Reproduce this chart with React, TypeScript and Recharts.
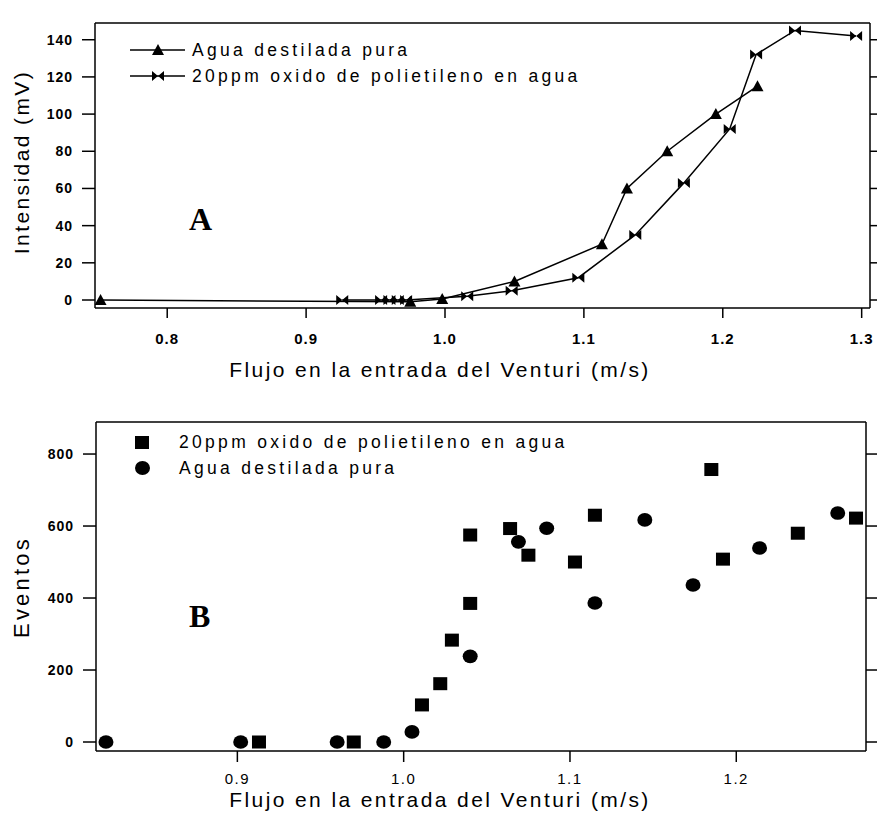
import { LineChart, Line, ScatterChart, Scatter, XAxis, YAxis } from 'recharts'

// Panel A: Intensidad (mV) vs flujo (m/s)
const aguaFlujoA = [0.752, 0.975, 0.998, 1.05, 1.113, 1.131, 1.16, 1.195, 1.225]
const aguaIntA = [0, -1, 0.5, 10, 30, 60, 80, 100, 115]
const peoFlujoA = [0.926, 0.954, 0.96, 0.966, 0.972, 1.016, 1.048, 1.096, 1.137, 1.172, 1.205, 1.224, 1.252, 1.296]
const peoIntA = [0, 0, 0, 0, 0, 2, 5, 12, 35, 63, 92, 132, 145, 142]
const ticksXA = [0.8, 0.9, 1.0, 1.1, 1.2, 1.3]
const ticksYA = [0, 20, 40, 60, 80, 100, 120, 140]

// Panel B: Eventos vs flujo (m/s)
const peoFlujoB = [0.913, 0.97, 1.011, 1.022, 1.029, 1.04, 1.04, 1.064, 1.075, 1.103, 1.115, 1.185, 1.192, 1.237, 1.272]
const peoEvB = [0, 0, 103, 162, 283, 385, 575, 593, 519, 500, 630, 757, 508, 580, 622]
const aguaFlujoB = [0.821, 0.902, 0.96, 0.988, 1.005, 1.04, 1.069, 1.086, 1.115, 1.145, 1.174, 1.214, 1.261]
const aguaEvB = [0, 0, 0, 0, 28, 238, 556, 594, 386, 617, 436, 539, 636]
const ticksXB = [0.9, 1.0, 1.1, 1.2]
const ticksYB = [0, 200, 400, 600, 800]

const serieAguaA = aguaFlujoA.map((x, i) => ({ x, y: aguaIntA[i] }))
const seriePeoA = peoFlujoA.map((x, i) => ({ x, y: peoIntA[i] }))
const seriePeoB = peoFlujoB.map((x, i) => ({ x, y: peoEvB[i] }))
const serieAguaB = aguaFlujoB.map((x, i) => ({ x, y: aguaEvB[i] }))

const FONT = '"Liberation Sans", Arial, sans-serif'
const SERIF = '"Liberation Serif", "Times New Roman", serif'
const blank = () => ''

const Triangle = (p: any) => (
  <polygon
    key={`t${p.index}`}
    points={`${p.cx - 6},${p.cy + 5} ${p.cx + 6},${p.cy + 5} ${p.cx},${p.cy - 6}`}
    fill="#000"
  />
)

const Bowtie = (p: any) => (
  <polygon
    key={`b${p.index}`}
    points={`${p.cx - 6},${p.cy - 5} ${p.cx},${p.cy} ${p.cx - 6},${p.cy + 5} ${p.cx - 6},${p.cy - 5} ${p.cx + 6},${p.cy - 5} ${p.cx},${p.cy} ${p.cx + 6},${p.cy + 5} ${p.cx + 6},${p.cy - 5}`}
    fill="#000"
  />
)

const Square = (p: any) => <rect x={p.cx - 7} y={p.cy - 6.5} width={14} height={13} fill="#000" />
const Dot = (p: any) => <ellipse cx={p.cx} cy={p.cy} rx={7.5} ry={6.8} fill="#000" />

const abs = (left: number, top: number, extra: any = {}) => ({
  position: 'absolute' as const,
  left,
  top,
  fontFamily: FONT,
  color: '#000',
  whiteSpace: 'nowrap' as const,
  ...extra,
})

const titleStyle = { fontSize: 21, letterSpacing: 2.4, lineHeight: '24px' }
const legendStyle = { fontSize: 17.5, letterSpacing: 3.3, lineHeight: '20px' }

export default function App() {
  const tickYA = { fill: '#000', fontSize: 14, fontWeight: 'bold', fontFamily: FONT, letterSpacing: 1 }
  const tickXA = { fill: '#000', fontSize: 15, fontWeight: 'bold', fontFamily: FONT, letterSpacing: 1 }
  const tickXB = { fill: '#000', fontSize: 15, fontFamily: FONT, letterSpacing: 1.5 }
  const stroke = { stroke: '#000', strokeWidth: 1.5 }

  return (
    <div style={{ position: 'absolute', left: 0, top: 0, width: 877, height: 822, background: '#fff' }}>
      <div style={{ position: 'absolute', left: 0, top: 0 }}>
        <LineChart width={877} height={370} margin={{ top: 22, right: 6, bottom: 61, left: 94 }}>
          <XAxis
            dataKey="x"
            type="number"
            domain={[0.748, 1.306]}
            allowDataOverflow
            ticks={ticksXA}
            tickFormatter={(v: number) => v.toFixed(1)}
            height={1}
            tickSize={10}
            tickMargin={15}
            tick={tickXA}
            axisLine={stroke}
            tickLine={stroke}
          />
          <XAxis
            xAxisId="top"
            orientation="top"
            type="number"
            domain={[0.748, 1.306]}
            allowDataOverflow
            ticks={ticksXA}
            tickFormatter={blank}
            height={1}
            tickSize={10}
            axisLine={stroke}
            tickLine={stroke}
          />
          <YAxis
            dataKey="y"
            type="number"
            domain={[-4.3, 149]}
            allowDataOverflow
            ticks={ticksYA}
            width={1}
            tickSize={13}
            tickMargin={9}
            tick={tickYA}
            axisLine={stroke}
            tickLine={stroke}
          />
          <YAxis
            yAxisId="right"
            orientation="right"
            type="number"
            domain={[-4.3, 149]}
            allowDataOverflow
            ticks={ticksYA}
            tickFormatter={blank}
            width={1}
            tickSize={7}
            axisLine={stroke}
            tickLine={stroke}
          />
          <Line
            data={serieAguaA}
            dataKey="y"
            type="linear"
            stroke="#000"
            strokeWidth={1.5}
            dot={Triangle}
            activeDot={false}
            isAnimationActive={false}
          />
          <Line
            data={seriePeoA}
            dataKey="y"
            type="linear"
            stroke="#000"
            strokeWidth={1.5}
            dot={Bowtie}
            activeDot={false}
            isAnimationActive={false}
          />
        </LineChart>
      </div>

      <div style={{ position: 'absolute', left: 0, top: 370 }}>
        <ScatterChart width={877} height={452} margin={{ top: 51, right: 10, bottom: 70, left: 95 }}>
          <XAxis
            dataKey="x"
            type="number"
            domain={[0.815, 1.278]}
            allowDataOverflow
            ticks={ticksXB}
            tickFormatter={(v: number) => v.toFixed(1)}
            height={1}
            tickSize={11}
            tickMargin={11}
            tick={tickXB}
            axisLine={stroke}
            tickLine={stroke}
          />
          <XAxis
            xAxisId="top"
            orientation="top"
            type="number"
            domain={[0.815, 1.278]}
            allowDataOverflow
            ticks={ticksXB}
            tickFormatter={blank}
            height={1}
            tickSize={10}
            axisLine={stroke}
            tickLine={stroke}
          />
          <YAxis
            dataKey="y"
            type="number"
            domain={[-25, 889]}
            allowDataOverflow
            ticks={ticksYB}
            width={1}
            tickSize={13}
            tickMargin={9}
            tick={tickYA}
            axisLine={stroke}
            tickLine={stroke}
          />
          <YAxis
            yAxisId="right"
            orientation="right"
            type="number"
            domain={[-25, 889]}
            allowDataOverflow
            ticks={ticksYB}
            tickFormatter={blank}
            width={1}
            tickSize={11}
            axisLine={stroke}
            tickLine={stroke}
          />
          <Scatter data={seriePeoB} shape={Square} isAnimationActive={false} />
          <Scatter data={serieAguaB} shape={Dot} isAnimationActive={false} />
        </ScatterChart>
      </div>

      {/* Panel A: leyenda, letra y títulos */}
      <svg width={60} height={20} style={{ position: 'absolute', left: 128, top: 40 }}>
        <line x1={2} y1={10} x2={57} y2={10} stroke="#000" strokeWidth={1.5} />
        <polygon points="24,15 36,15 30,4" fill="#000" />
      </svg>
      <svg width={60} height={20} style={{ position: 'absolute', left: 128, top: 66 }}>
        <line x1={2} y1={10} x2={57} y2={10} stroke="#000" strokeWidth={1.5} />
        <polygon points="24,5 30,10 24,15 24,5 36,5 30,10 36,15 36,5" fill="#000" />
      </svg>
      <div style={abs(192, 40, legendStyle)}>Agua destilada pura</div>
      <div style={abs(192, 66, legendStyle)}>20ppm oxido de polietileno en agua</div>
      <div style={abs(189, 201, { fontFamily: SERIF, fontWeight: 'bold', fontSize: 32, lineHeight: '36px' })}>A</div>
      <div style={abs(-128, 150, { width: 300, textAlign: 'center', transform: 'rotate(-90deg)', ...titleStyle })}>Intensidad (mV)</div>
      <div style={abs(140, 358, { width: 600, textAlign: 'center', ...titleStyle })}>Flujo en la entrada del Venturi (m/s)</div>

      {/* Panel B: leyenda, letra y títulos */}
      <div style={abs(135, 436, { width: 14, height: 13, background: '#000' })} />
      <div style={abs(134.5, 461, { width: 15, height: 14, borderRadius: '50%', background: '#000' })} />
      <div style={abs(179, 432, legendStyle)}>20ppm oxido de polietileno en agua</div>
      <div style={abs(179, 458, legendStyle)}>Agua destilada pura</div>
      <div style={abs(189, 598, { fontFamily: SERIF, fontWeight: 'bold', fontSize: 32, lineHeight: '36px' })}>B</div>
      <div style={abs(-128, 575, { width: 300, textAlign: 'center', transform: 'rotate(-90deg)', ...titleStyle, fontSize: 22, letterSpacing: 3.2 })}>Eventos</div>
      <div style={abs(140, 788, { width: 600, textAlign: 'center', ...titleStyle })}>Flujo en la entrada del Venturi (m/s)</div>
    </div>
  )
}
